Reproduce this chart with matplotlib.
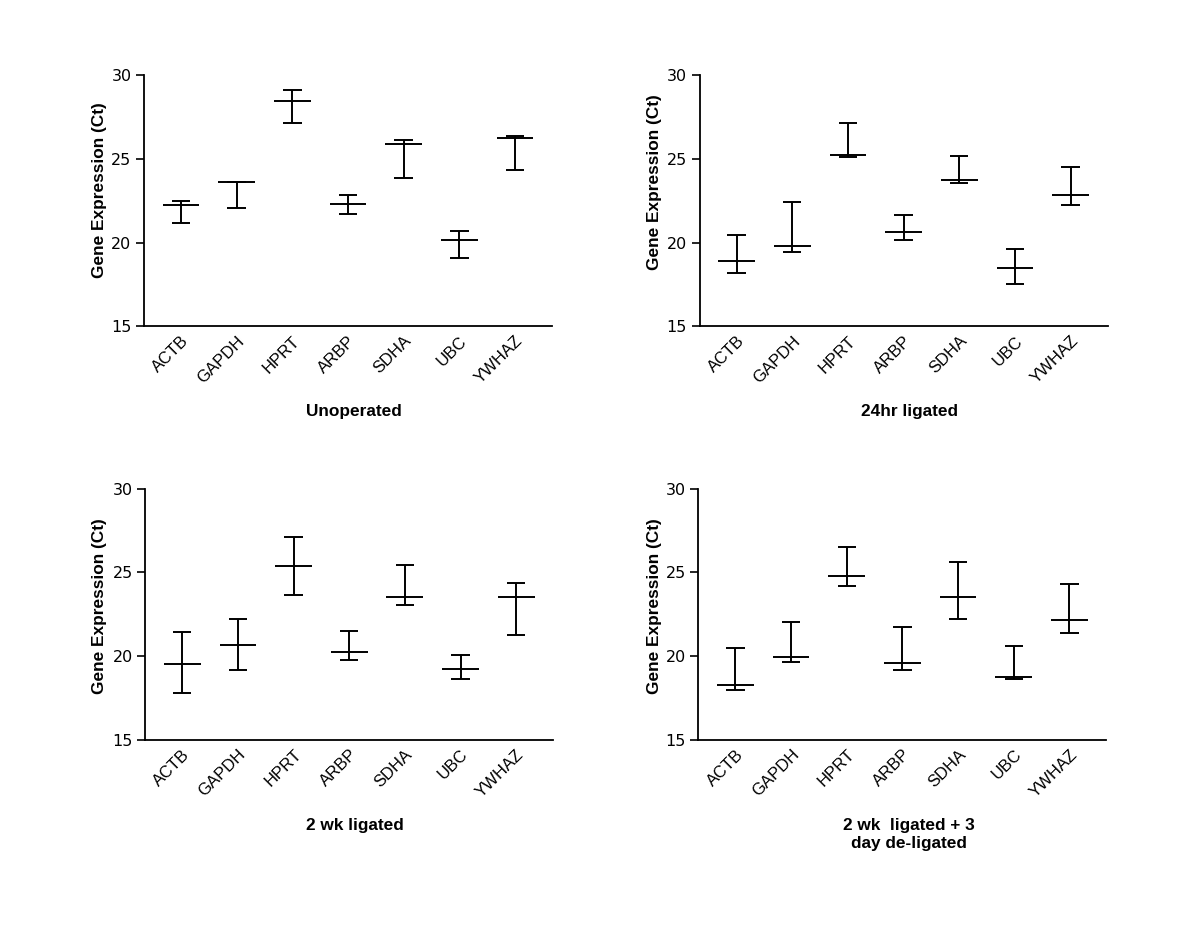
import numpy as np
import matplotlib
matplotlib.use("Agg")
import matplotlib.pyplot as plt
import matplotlib.transforms as mtransforms

plt.rcParams['font.family'] = ['Liberation Sans', 'DejaVu Sans']

genes = ['ACTB', 'GAPDH', 'HPRT', 'ARBP', 'SDHA', 'UBC', 'YWHAZ']

# mean, upper and lower end of each bar (Ct)
unop_mean = [22.26, 23.60, 28.46, 22.32, 25.87, 20.17, 26.23]
unop_hi = [22.50, 23.60, 29.12, 22.82, 26.15, 20.72, 26.35]
unop_lo = [21.14, 22.06, 27.13, 21.70, 23.88, 19.09, 24.35]

h24_mean = [18.91, 19.80, 25.24, 20.62, 23.71, 18.49, 22.82]
h24_hi = [20.48, 22.44, 27.16, 21.67, 25.14, 19.62, 24.52]
h24_lo = [18.21, 19.42, 25.08, 20.14, 23.55, 17.52, 22.22]

wk2_mean = [19.51, 20.63, 25.39, 20.23, 23.55, 19.22, 23.53]
wk2_hi = [21.45, 22.19, 27.12, 21.49, 25.45, 20.07, 24.33]
wk2_lo = [17.82, 19.18, 23.67, 19.75, 23.05, 18.62, 21.25]

del_mean = [18.26, 19.93, 24.79, 19.56, 23.50, 18.74, 22.16]
del_hi = [20.45, 22.04, 26.52, 21.74, 25.64, 20.61, 24.27]
del_lo = [17.98, 19.62, 24.19, 19.14, 22.22, 18.62, 21.35]

titles = ['Unoperated', '24hr ligated', '2 wk ligated', '2 wk  ligated + 3\nday de-ligated']

panels = [
    (unop_mean, unop_hi, unop_lo),
    (h24_mean, h24_hi, h24_lo),
    (wk2_mean, wk2_hi, wk2_lo),
    (del_mean, del_hi, del_lo),
]

# axes boxes [left, bottom, width, height] in figure fractions
boxes = [
    [0.120, 0.648, 0.340, 0.271],
    [0.583, 0.648, 0.340, 0.271],
    [0.121, 0.202, 0.340, 0.271],
    [0.582, 0.202, 0.340, 0.271],
]
# where the y label sits in each panel (axes fractions)
ylab_pos = [(-0.090, 0.542), (-0.092, 0.575), (-0.094, 0.532), (-0.090, 0.532)]

fig = plt.figure(figsize=(12, 9.27), dpi=100)

x = np.arange(len(genes))
for box, (m, hi, lo), title, lp in zip(boxes, panels, titles, ylab_pos):
    ax = fig.add_axes(box)
    ax.vlines(x, lo, hi, color='black', lw=1.4)
    ax.hlines(hi, x - 0.165, x + 0.165, color='black', lw=1.4)
    ax.hlines(lo, x - 0.165, x + 0.165, color='black', lw=1.4)
    ax.hlines(m, x - 0.33, x + 0.33, color='black', lw=1.4)

    ax.set_xlim(-0.665, len(genes) - 1 + 0.665)
    ax.set_ylim(15, 30)
    ax.set_yticks([15, 20, 25, 30])
    ax.set_yticklabels(['15', '20', '25', '30'], family='DejaVu Sans', fontsize=11.5)
    ax.set_xticks(x)
    ax.set_xticklabels(genes, rotation=45, ha='right', rotation_mode='anchor', fontsize=12)
    # nudge the rotated names so their ends sit under the bars
    shift = mtransforms.ScaledTranslation(-4 / 72, 0, fig.dpi_scale_trans)
    for lab in ax.get_xticklabels():
        lab.set_transform(lab.get_transform() + shift)
    ax.tick_params(axis='x', length=0, pad=5)
    ax.tick_params(axis='y', length=6, width=1.2, pad=3)
    for s in ['top', 'right']:
        ax.spines[s].set_visible(False)
    for s in ['left', 'bottom']:
        ax.spines[s].set_linewidth(1.3)
    ax.set_ylabel('Gene Expression (Ct)', fontsize=12.4, fontweight='bold')
    ax.yaxis.set_label_coords(lp[0], lp[1])
    ax.text(0.515, -0.31, title, transform=ax.transAxes, ha='center', va='top',
            fontsize=12.4, fontweight='bold', linespacing=1.25)

fig.savefig('out.png', dpi=100, facecolor='white')
